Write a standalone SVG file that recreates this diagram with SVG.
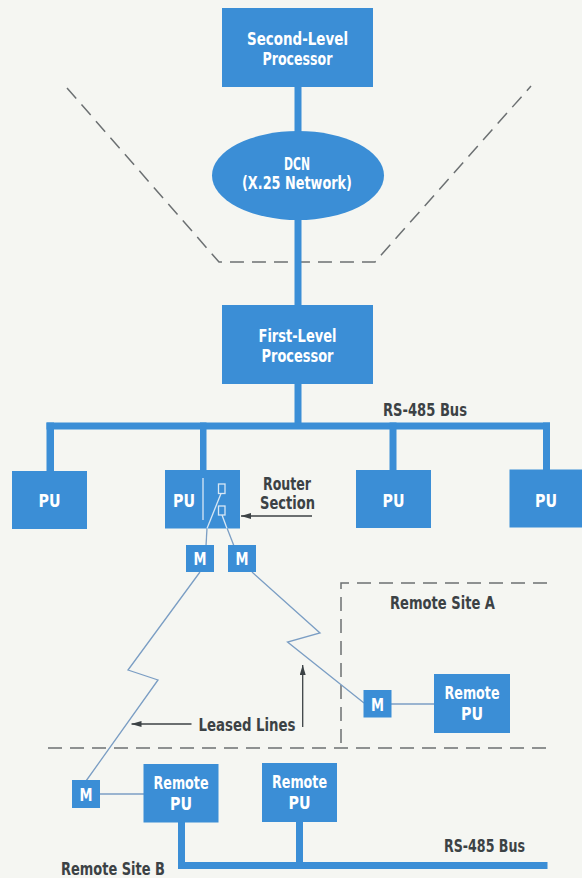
<svg xmlns="http://www.w3.org/2000/svg" width="582" height="878" viewBox="0 0 582 878">
<style>
.bx{fill:#3b8ed6}
.wt{fill:#ffffff;font-family:"Liberation Sans Narrow","DejaVu Sans Condensed","Liberation Sans",Arial,sans-serif;font-weight:bold;font-size:18px;text-anchor:middle}
.dk{fill:#3c4245;font-family:"Liberation Sans Narrow","DejaVu Sans Condensed","Liberation Sans",Arial,sans-serif;font-weight:bold;font-size:18px;text-anchor:middle}
.dash{fill:none;stroke:#6c7072;stroke-width:1.5;stroke-dasharray:14 8}
.lease{fill:none;stroke:#7b9ec4;stroke-width:1.3;stroke-linejoin:miter}
.inner{fill:none;stroke:#d8e7f4;stroke-width:1.3}
.arr{fill:none;stroke:#3c4245;stroke-width:1.3}
</style>
<defs>
<marker id="ah" viewBox="0 0 10 6" refX="10" refY="3" markerWidth="10" markerHeight="6" markerUnits="userSpaceOnUse" orient="auto">
<path d="M0,0 L10,3 L0,6 Z" fill="#3c4245"/>
</marker>
</defs>
<rect x="0" y="0" width="582" height="878" fill="#f5f6f2"/>

<g id="boundaries">
<polyline class="dash" points="67,88 219,262 375,262 531,86"/>
<polyline class="dash" points="547,583 341,583 341,747"/>
<line class="dash" x1="48" y1="748" x2="547" y2="748"/>
</g>

<g id="connectors">
<rect class="bx" x="294.5" y="86" width="7" height="47"/>
<rect class="bx" x="294.5" y="218" width="7" height="89"/>
<rect class="bx" x="294.5" y="383" width="7" height="42"/>
<rect class="bx" x="46.5" y="422.5" width="503.5" height="7"/>
<rect class="bx" x="46.5" y="422.5" width="7.5" height="49"/>
<rect class="bx" x="200" y="422.5" width="6.5" height="49"/>
<rect class="bx" x="389.5" y="422.5" width="7" height="49"/>
<rect class="bx" x="543" y="422.5" width="7" height="49"/>
<rect class="bx" x="178" y="821" width="7" height="48"/>
<rect class="bx" x="296" y="821" width="7" height="48"/>
<rect class="bx" x="178" y="862" width="369.5" height="7"/>
<polyline class="lease" points="200,572 128,670 158,680 86,781"/>
<polyline class="lease" points="252,572 320,633 287.5,642 364,703"/>
<line class="lease" x1="207" y1="528" x2="206" y2="546"/>
<line class="lease" x1="227" y1="528" x2="234" y2="546"/>
<line class="lease" x1="391" y1="704" x2="435" y2="704"/>
<line class="lease" x1="99" y1="794" x2="144" y2="794"/>
<line class="arr" x1="312" y1="516" x2="241" y2="516" marker-end="url(#ah)"/>
<line class="arr" x1="191.5" y1="724" x2="131.5" y2="724" marker-end="url(#ah)"/>
<line class="arr" x1="302.7" y1="727" x2="302.7" y2="665" marker-end="url(#ah)"/>
</g>

<g id="second-level">
<rect class="bx" x="222" y="8" width="151" height="79"/>
<text class="wt" x="297.5" y="45" textLength="101" lengthAdjust="spacingAndGlyphs">Second-Level</text>
<text class="wt" x="297.5" y="64.5" textLength="70" lengthAdjust="spacingAndGlyphs">Processor</text>
</g>

<g id="dcn">
<ellipse class="bx" cx="298" cy="175.5" rx="86" ry="44.5"/>
<text class="wt" x="297" y="170" textLength="26" lengthAdjust="spacingAndGlyphs">DCN</text>
<text class="wt" x="297" y="189" textLength="110" lengthAdjust="spacingAndGlyphs">(X.25 Network)</text>
</g>

<g id="first-level">
<rect class="bx" x="222" y="305" width="151" height="79"/>
<text class="wt" x="297.5" y="342" textLength="78" lengthAdjust="spacingAndGlyphs">First-Level</text>
<text class="wt" x="297.5" y="361.5" textLength="72" lengthAdjust="spacingAndGlyphs">Processor</text>
</g>

<text class="dk" x="425" y="416" textLength="84" lengthAdjust="spacingAndGlyphs">RS-485 Bus</text>

<g id="pu1">
<rect class="bx" x="12" y="471" width="75" height="58"/>
<text class="wt" x="49.5" y="507" textLength="22" lengthAdjust="spacingAndGlyphs">PU</text>
</g>

<g id="pu2">
<rect class="bx" x="165" y="470" width="75" height="58.5"/>
<text class="wt" x="184" y="507" textLength="22" lengthAdjust="spacingAndGlyphs">PU</text>
<line class="inner" x1="203" y1="478" x2="203" y2="520"/>
<rect class="inner" x="218.5" y="484" width="6.5" height="9.5"/>
<rect class="inner" x="218.5" y="506" width="6.5" height="9"/>
<line class="inner" x1="221" y1="493.5" x2="207" y2="528.5"/>
<line class="inner" x1="222" y1="515" x2="227" y2="528.5"/>
</g>

<g id="router-label">
<text class="dk" x="287" y="490" textLength="48" lengthAdjust="spacingAndGlyphs">Router</text>
<text class="dk" x="287.5" y="509" textLength="55" lengthAdjust="spacingAndGlyphs">Section</text>
</g>

<g id="pu3">
<rect class="bx" x="356" y="470" width="75" height="58"/>
<text class="wt" x="393.5" y="507" textLength="22" lengthAdjust="spacingAndGlyphs">PU</text>
</g>

<g id="pu4">
<rect class="bx" x="509.5" y="469.5" width="73" height="58"/>
<text class="wt" x="546" y="507" textLength="22" lengthAdjust="spacingAndGlyphs">PU</text>
</g>

<g id="m1">
<rect class="bx" x="186" y="545" width="28" height="27"/>
<text class="wt" x="200" y="565" textLength="13" lengthAdjust="spacingAndGlyphs">M</text>
</g>

<g id="m2">
<rect class="bx" x="228" y="545" width="28" height="27"/>
<text class="wt" x="242" y="565" textLength="13" lengthAdjust="spacingAndGlyphs">M</text>
</g>

<text class="dk" x="442.5" y="609" textLength="105" lengthAdjust="spacingAndGlyphs">Remote Site A</text>
<text class="dk" x="247" y="731" textLength="97" lengthAdjust="spacingAndGlyphs">Leased Lines</text>

<g id="m-a">
<rect class="bx" x="363.5" y="690" width="28" height="27.5"/>
<text class="wt" x="377.5" y="710.5" textLength="13" lengthAdjust="spacingAndGlyphs">M</text>
</g>

<g id="remote-pu-a">
<rect class="bx" x="434" y="674" width="76" height="59"/>
<text class="wt" x="472" y="699" textLength="55" lengthAdjust="spacingAndGlyphs">Remote</text>
<text class="wt" x="472" y="720" textLength="22" lengthAdjust="spacingAndGlyphs">PU</text>
</g>

<g id="m-b">
<rect class="bx" x="72" y="780" width="28" height="28"/>
<text class="wt" x="86" y="800.5" textLength="13" lengthAdjust="spacingAndGlyphs">M</text>
</g>

<g id="remote-pu-b1">
<rect class="bx" x="143.5" y="764" width="75" height="58.5"/>
<text class="wt" x="181" y="789" textLength="55" lengthAdjust="spacingAndGlyphs">Remote</text>
<text class="wt" x="181" y="810" textLength="22" lengthAdjust="spacingAndGlyphs">PU</text>
</g>

<g id="remote-pu-b2">
<rect class="bx" x="262" y="763" width="75" height="59"/>
<text class="wt" x="299.5" y="788" textLength="55" lengthAdjust="spacingAndGlyphs">Remote</text>
<text class="wt" x="299.5" y="809" textLength="22" lengthAdjust="spacingAndGlyphs">PU</text>
</g>

<text class="dk" x="484.5" y="852" textLength="81" lengthAdjust="spacingAndGlyphs">RS-485 Bus</text>
<text class="dk" x="113" y="875" textLength="104" lengthAdjust="spacingAndGlyphs">Remote Site B</text>
</svg>
